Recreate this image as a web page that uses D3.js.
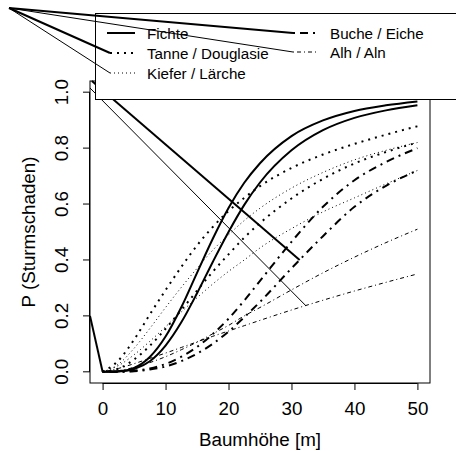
<!DOCTYPE html>
<html><head><meta charset="utf-8">
<script src="https://cdn.jsdelivr.net/npm/d3@7"></script>
<style>body{margin:0;background:#fff}svg{display:block}text{font-family:"Liberation Sans",Arial,sans-serif;fill:#000}</style>
</head><body>
<script>
// ---- data ----
const heights = [0, 2.5, 5, 7.5, 10, 12.5, 15, 17.5, 20, 22.5, 25, 30, 35, 40, 45, 50];
const fichte1 = [0, 0.002, 0.014, 0.053, 0.126, 0.231, 0.354, 0.476, 0.586, 0.676, 0.746, 0.843, 0.899, 0.933, 0.953, 0.967];
const fichte2 = [0, 0.001, 0.010, 0.038, 0.094, 0.177, 0.281, 0.393, 0.500, 0.597, 0.677, 0.792, 0.864, 0.908, 0.935, 0.953];
const tanne1  = [0, 0.040, 0.115, 0.205, 0.292, 0.375, 0.452, 0.518, 0.575, 0.622, 0.664, 0.729, 0.777, 0.815, 0.848, 0.878];
const tanne2  = [0, 0.011, 0.044, 0.093, 0.154, 0.221, 0.290, 0.358, 0.420, 0.480, 0.532, 0.620, 0.690, 0.745, 0.786, 0.820];
const kiefer1 = [0, 0.027, 0.084, 0.155, 0.230, 0.302, 0.370, 0.435, 0.490, 0.541, 0.585, 0.657, 0.713, 0.758, 0.792, 0.820];
const kiefer2 = [0, 0.022, 0.061, 0.109, 0.161, 0.214, 0.265, 0.314, 0.359, 0.400, 0.443, 0.512, 0.572, 0.622, 0.672, 0.720];
const buche1  = [0, 0.000, 0.004, 0.012, 0.028, 0.054, 0.089, 0.135, 0.190, 0.255, 0.325, 0.465, 0.590, 0.685, 0.750, 0.800];
const buche2  = [0, 0.000, 0.002, 0.008, 0.019, 0.038, 0.065, 0.100, 0.144, 0.195, 0.250, 0.370, 0.485, 0.590, 0.665, 0.720];
const alh1    = [0, 0.004, 0.016, 0.033, 0.054, 0.079, 0.106, 0.136, 0.166, 0.200, 0.230, 0.293, 0.354, 0.410, 0.462, 0.510];
const alh2    = [0, 0.012, 0.029, 0.048, 0.067, 0.087, 0.107, 0.127, 0.146, 0.165, 0.184, 0.221, 0.256, 0.289, 0.320, 0.350];
const xTicks = [0, 10, 20, 30, 40, 50];
const yTicks = [0, 0.2, 0.4, 0.6, 0.8, 1.0];
const legendLabels = ["Fichte", "Tanne / Douglasie", "Kiefer / Lärche", "Buche / Eiche", "Alh / Aln"];
// stray connector segments seen in the reference (data units)
const strayThick = [[-1.7, 1.04], [31.3, 0.40]];
const strayThin  = [[-2.0, 1.015], [32.3, 0.236]];
const strayStart = [[-2.0, 0.2], [0, 0]];

// ---- styles ----
const FS = 18.8, LFS = 15.2;
const styles = {
  fichte: {w: 2, dash: null},
  tanne:  {w: 2, dash: "2,5"},
  kiefer: {w: 1, dash: "1,3"},
  buche:  {w: 2, dash: "2,5,8,5"},
  alh:    {w: 1, dash: "1,3,4,3"}
};
const series = [
  {v: fichte1, s: styles.fichte}, {v: fichte2, s: styles.fichte},
  {v: tanne1, s: styles.tanne}, {v: tanne2, s: styles.tanne},
  {v: kiefer1, s: styles.kiefer}, {v: kiefer2, s: styles.kiefer},
  {v: buche1, s: styles.buche}, {v: buche2, s: styles.buche},
  {v: alh1, s: styles.alh}, {v: alh2, s: styles.alh}
];

const W = 456, H = 451;
const L = 90, R = 430, T = 81, B = 383;
const svg = d3.select("body").append("svg").attr("width", W).attr("height", H);
const x = d3.scaleLinear().domain([-2, 52]).range([L, R]);
const y = d3.scaleLinear().domain([-0.04, 1.04]).range([B, T]);

const line = d3.line().x(d => x(d[0])).y(d => y(d[1])).curve(d3.curveMonotoneX);
const straight = d3.line().x(d => x(d[0])).y(d => y(d[1]));

// curves
series.forEach(sr => {
  svg.append("path").datum(heights.map((h, i) => [h, sr.v[i]]))
    .attr("d", line).attr("fill", "none").attr("stroke", "#000")
    .attr("stroke-width", sr.s.w).attr("stroke-dasharray", sr.s.dash);
});
svg.append("path").datum(strayStart).attr("d", straight).attr("fill", "none").attr("stroke", "#000").attr("stroke-width", 2);
svg.append("path").datum(strayThick).attr("d", straight).attr("fill", "none").attr("stroke", "#000").attr("stroke-width", 2);
svg.append("path").datum(strayThin).attr("d", straight).attr("fill", "none").attr("stroke", "#000").attr("stroke-width", 1);

// box
svg.append("rect").attr("x", L).attr("y", T).attr("width", R - L).attr("height", B - T)
  .attr("fill", "none").attr("stroke", "#000").attr("stroke-width", 1);

// axes
const xAxis = d3.axisBottom(x).tickValues(xTicks).tickSize(7).tickFormat(d3.format("d"));
const gx = svg.append("g").attr("transform", `translate(0,${B})`).call(xAxis);
gx.select(".domain").attr("d", `M${x(0)},0.5H${x(50)}`);
gx.selectAll("text").attr("font-size", FS).attr("font-family", "Liberation Sans, Arial, sans-serif")
  .attr("y", 32).attr("dy", 0);
const yAxis = d3.axisLeft(y).tickValues(yTicks).tickSize(7).tickFormat(d3.format(".1f"));
const gy = svg.append("g").attr("transform", `translate(${L},0)`).call(yAxis);
gy.select(".domain").attr("d", `M-0.5,${y(0)}V${y(1)}`);
gy.selectAll(".tick").attr("transform", null);
gy.selectAll(".tick line").attr("y1", d => y(d)).attr("y2", d => y(d)).attr("x2", -7);
gy.selectAll(".tick text").attr("font-size", FS).attr("font-family", "Liberation Sans, Arial, sans-serif")
  .attr("dy", 0).attr("text-anchor", "middle")
  .attr("transform", d => `translate(-22,${y(d)}) rotate(-90)`).attr("x", 0).attr("y", 0);

svg.append("text").attr("x", (L + R) / 2).attr("y", 446).attr("text-anchor", "middle")
  .attr("font-size", FS).text("Baumhöhe [m]");
svg.append("text").attr("transform", `translate(35,${(T + B) / 2}) rotate(-90)`).attr("text-anchor", "middle")
  .attr("font-size", FS).text("P (Sturmschaden)");

// legend
svg.append("rect").attr("x", 95.5).attr("y", 13.5).attr("width", 380).attr("height", 86)
  .attr("fill", "#fff").attr("stroke", "#000").attr("stroke-width", 1);
const legItems = [
  {lab: legendLabels[0], s: styles.fichte, lx: 107, ly: 33, tx: 147},
  {lab: legendLabels[1], s: styles.tanne, lx: 110, ly: 53, tx: 147},
  {lab: legendLabels[2], s: styles.kiefer, lx: 110, ly: 73, tx: 147},
  {lab: legendLabels[3], s: styles.buche, lx: 293, ly: 33, tx: 330},
  {lab: legendLabels[4], s: styles.alh, lx: 293, ly: 52, tx: 330}
];
legItems.forEach(it => {
  svg.append("line").attr("x1", it.lx).attr("x2", it.tx - 12).attr("y1", it.ly).attr("y2", it.ly)
    .attr("stroke", "#000").attr("stroke-width", it.s.w).attr("stroke-dasharray", it.s.dash);
  svg.append("text").attr("x", it.tx).attr("y", it.ly + 5.5).attr("font-size", LFS).text(it.lab);
});
// stray connectors to the legend keys
legItems.slice(1).forEach(it => {
  svg.append("line").attr("x1", 9).attr("y1", 8).attr("x2", it.lx).attr("y2", it.ly)
    .attr("stroke", "#000").attr("stroke-width", it.s.w);
});
</script>
</body></html>
